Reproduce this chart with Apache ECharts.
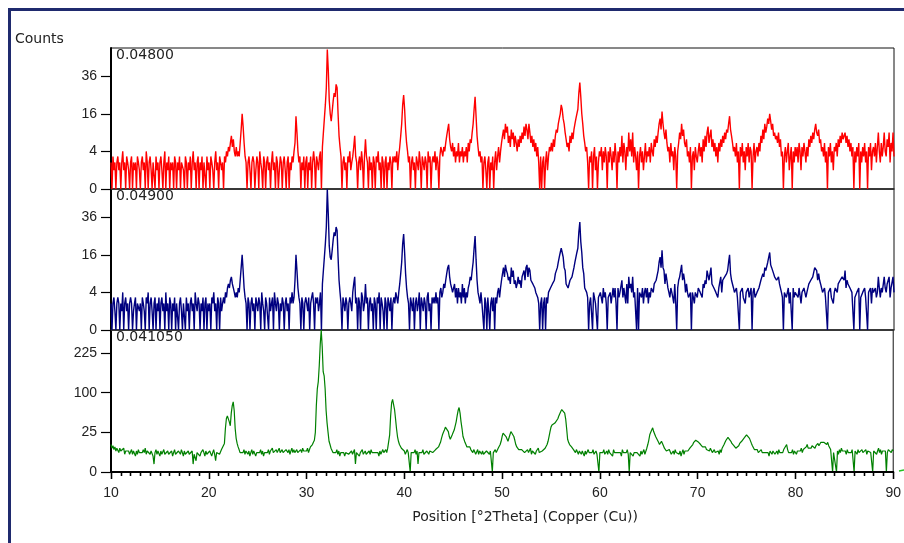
<!DOCTYPE html>
<html><head><meta charset="utf-8">
<script src="https://cdn.jsdelivr.net/npm/echarts@6/dist/echarts.min.js"></script>
<style>html,body{margin:0;padding:0;background:#fff}#c{width:904px;height:543px}</style>
</head><body><div id="c"></div>
<script>
// 2Theta sampling grid (degrees): one value every 0.1 deg from 10 to 90
const thetaStart = 10, thetaStep = 0.1;
const panelLabels = ['0.04800', '0.04900', '0.041050'];
const yTickCountsTop = [0, 4, 16, 36];
const yTickCountsBottom = [0, 25, 100, 225];
const xTitle = 'Position [°2Theta] (Copper (Cu))';
const yTitle = 'Counts';

// one row per degree (10 samples each)
const countsRed = [
 2,0,3,1,2,0,2,3,1,2, 0,2,4,1,2,0,3,2,1,0, 2,3,0,2,1,2,0,3,2,1, 0,2,3,1,2,0,4,2,0,2, 3,1,0,2,2,0,3,1,2,0,
 2,3,1,0,2,4,0,2,1,3, 0,2,1,2,0,3,2,0,2,1, 3,0,2,2,1,0,3,2,0,2, 1,3,0,2,4,1,2,0,2,3, 0,2,1,3,0,2,2,0,3,1,
 2,0,3,2,1,0,2,4,1,2, 0,3,2,1,2,0,3,2,4,3, 5,4,6,8,5,7,4,3,5,3, 4,3,6,10,16,11,6,3,2,0, 2,3,1,0,2,3,2,0,1,3,
 2,0,4,2,1,0,3,2,0,2, 3,1,2,0,2,4,1,2,0,3, 2,0,1,3,2,0,2,3,1,0, 2,3,0,2,1,3,2,4,6,15, 9,4,2,3,0,2,1,3,0,2,
 3,0,2,1,3,0,2,4,2,0, 3,2,1,3,4,0,5,9,14,20, 29,55,40,22,16,13,17,22,26,24, 31,29,16,8,5,3,0,2,3,1, 2,0,3,2,4,1,2,3,5,8,
 3,2,0,2,3,1,4,2,0,3, 7,3,2,0,3,1,2,0,3,2, 0,3,2,4,1,2,0,3,2,0, 2,3,0,2,1,3,2,0,3,2, 3,2,4,1,3,5,8,12,20,25,
 18,10,6,4,2,3,0,2,3,1, 2,0,3,2,1,4,2,0,3,2, 1,3,2,0,4,2,3,0,2,3, 2,4,1,3,2,0,3,5,4,3, 5,4,6,8,10,12,7,5,4,6,
 3,5,2,4,3,6,2,4,3,5, 2,4,3,5,2,6,4,7,6,9, 12,18,24,15,8,5,3,4,2,3, 0,2,3,1,0,2,3,0,2,1, 3,0,2,4,1,3,5,2,4,6,
 8,10,7,12,9,11,6,8,5,10, 7,9,5,8,6,4,7,5,8,6, 9,7,11,8,12,10,7,12,9,6, 8,5,7,4,6,3,5,2,0,3, 0,2,3,0,2,4,1,3,5,4,
 6,4,7,5,8,10,9,12,14,16, 20,18,14,12,9,7,5,6,4,8, 6,9,7,10,12,14,16,18,26,32, 24,16,12,8,6,4,5,2,0,3, 2,4,0,3,5,1,3,0,2,4,
 3,5,1,4,2,5,3,0,4,2, 5,3,1,4,2,6,3,0,4,2, 5,3,8,2,6,4,1,5,3,9, 4,7,3,9,2,5,3,1,4,0, 3,5,2,4,1,3,6,2,4,3,
 5,2,6,4,3,7,5,8,6,9, 12,14,10,17,12,9,7,10,6,4, 5,2,6,3,4,1,5,3,0,4, 6,9,7,12,8,10,6,5,7,3, 4,2,5,0,3,4,1,5,3,2,
 4,6,3,5,2,7,4,8,5,9, 11,6,8,10,5,7,4,6,3,5, 2,6,4,7,5,8,6,9,7,10, 9,12,15,10,8,6,4,5,3,6, 2,4,0,5,3,6,2,4,1,5,
 3,6,2,5,4,0,3,6,2,4, 5,3,6,4,8,6,10,7,12,9, 11,14,12,16,13,10,12,8,9,7, 8,6,9,5,7,3,4,0,3,5, 2,4,6,1,3,5,0,4,2,5,
 3,5,2,6,4,1,5,3,6,4, 2,5,3,7,5,8,6,9,7,10, 12,9,8,10,6,7,4,5,3,6, 2,4,0,5,3,6,2,4,1,5, 4,6,3,7,5,8,6,9,7,8,
 9,6,8,5,7,4,6,3,5,0, 4,2,5,3,6,0,4,2,5,3, 6,2,4,0,5,3,6,1,4,5, 3,6,2,5,9,4,2,6,3,5, 9,4,3,7,5,9,2,6,4,9,
 3
];

const countsBlue = [
 2,0,2,3,1,0,2,3,2,0, 2,1,4,0,2,3,1,2,0,2, 3,2,0,1,2,3,0,2,2,1, 2,0,3,2,1,0,3,2,4,0, 2,3,1,0,2,3,0,2,1,3,
 0,2,3,1,2,0,4,1,2,0, 3,2,0,2,1,3,0,2,2,0, 2,3,1,0,2,2,0,3,1,2, 0,2,3,1,2,0,4,2,1,3, 2,0,2,1,3,0,2,3,0,2,
 1,2,0,3,2,4,1,2,0,3, 2,0,3,1,2,3,2,4,3,5, 6,5,7,8,6,5,4,3,4,3, 5,4,7,11,16,10,5,3,2,0, 3,2,0,2,3,1,2,0,3,2,
 1,3,2,0,4,2,1,0,3,2, 2,0,3,1,2,3,0,4,2,1, 3,2,0,2,1,3,2,0,2,3, 1,2,0,3,2,4,2,3,7,16, 10,5,3,2,0,3,2,0,2,3,
 2,1,3,0,2,3,4,2,0,3, 2,3,1,2,4,0,6,10,15,21, 30,56,38,20,15,14,18,23,27,25, 30,28,15,7,4,2,0,3,2,1, 3,2,0,2,3,2,1,4,6,8,
 2,3,0,3,2,0,4,3,1,2, 6,2,3,0,2,3,1,2,0,3, 2,0,3,2,4,0,3,2,1,0, 3,2,0,3,2,1,3,0,2,3, 2,4,3,2,4,6,9,13,21,26,
 17,9,5,3,2,0,3,2,1,3, 0,2,3,1,2,4,0,3,2,1, 3,2,0,3,4,1,2,0,3,2, 3,2,4,2,3,0,4,5,3,4, 6,5,7,9,11,12,8,6,5,4,
 4,6,3,5,2,5,3,4,2,6, 3,5,2,4,3,5,6,8,7,10, 13,19,25,14,7,4,3,2,4,2, 2,0,3,2,0,3,1,0,2,3, 1,3,0,3,2,4,5,3,5,7,
 9,11,8,12,10,9,7,8,6,11, 8,10,6,7,5,6,8,6,7,5, 8,9,10,7,11,12,8,11,10,7, 7,6,6,5,4,4,3,2,0,2, 3,0,2,3,0,3,2,4,4,5,
 5,6,6,7,9,9,11,13,15,17, 19,17,15,11,10,6,6,5,5,7, 7,8,8,11,13,13,17,19,27,33, 22,17,11,9,5,5,4,3,0,2, 3,3,0,4,4,2,2,0,3,3,
 4,4,2,5,3,4,2,0,3,3, 4,2,2,5,3,5,2,0,5,3, 4,4,7,3,5,5,2,6,2,8, 5,6,4,8,3,4,4,0,5,0, 4,4,3,5,2,4,5,3,5,2,
 4,3,5,5,4,6,6,7,7,10, 13,15,11,18,11,10,6,9,7,5, 4,3,5,4,3,2,6,2,0,5, 7,8,8,12,7,9,7,4,6,4, 3,3,4,0,4,3,2,4,4,3,
 5,5,4,4,3,6,5,7,6,10, 10,7,7,11,6,6,5,5,4,4, 3,5,5,8,4,7,7,8,8,9, 10,13,16,9,7,7,5,4,4,5, 3,3,0,4,4,5,3,3,2,4,
 4,5,3,4,5,0,4,5,3,3, 4,4,5,5,7,7,9,8,11,10, 10,13,13,17,12,11,11,9,8,8, 7,7,8,6,6,4,3,0,4,4, 3,3,5,2,4,4,0,5,3,4,
 4,4,3,5,5,2,4,4,5,5, 3,4,4,6,6,7,7,8,8,11, 11,10,7,9,7,6,5,4,4,5, 3,3,0,4,4,5,3,3,2,4, 5,5,4,6,6,7,7,8,8,7,
 10,5,7,6,6,5,5,4,4,0, 3,3,4,4,5,0,3,3,4,4, 5,3,3,0,4,4,5,2,5,4, 4,5,3,4,8,5,3,5,4,4, 8,5,4,6,6,8,3,5,5,8,
 4
];

const countsGreen = [
 12,9,11,8,10,7,9,8,6,9, 7,8,6,9,5,7,8,6,7,5, 6,8,5,7,6,4,7,5,8,6, 7,5,6,8,6,9,5,7,6,8, 5,7,6,4,1,6,8,5,7,6,
 4,7,5,6,8,5,6,4,7,5, 6,5,7,4,6,8,5,6,4,7, 6,5,8,6,4,7,5,6,5,7, 5,6,4,7,1,5,6,2,6,5, 7,4,6,5,8,6,4,7,5,6,
 5,7,6,4,6,8,5,2,6,5, 7,5,6,8,7,9,13,30,45,50, 48,40,34,55,70,78,60,30,18,13, 10,8,6,7,5,6,8,5,7,6, 5,7,4,6,8,5,7,6,4,6,
 7,5,6,8,5,7,4,6,7,5, 6,8,5,7,6,9,6,7,5,8, 6,7,9,6,5,8,6,7,5,8, 7,6,8,5,7,9,6,8,6,7, 8,6,7,5,8,6,9,7,6,8,
 7,9,6,8,10,9,12,14,16,25, 70,110,130,180,260,320,250,160,147,110, 60,38,25,15,12,9,8,6,7,5, 6,8,5,7,4,6,5,7,6,4, 6,5,7,5,6,4,7,5,6,8,
 1,6,5,7,4,6,5,8,5,6, 7,5,6,4,7,5,8,6,5,7, 6,5,7,6,4,7,5,6,8,6, 7,8,6,9,10,22,50,76,84,80, 62,45,30,20,15,12,11,9,8,10,
 7,5,6,8,6,5,0,6,5,7, 6,8,5,7,1,6,5,7,6,8, 5,6,4,7,6,5,7,6,8,6, 7,6,8,9,7,10,12,14,18,22, 25,28,32,34,30,26,20,17,19,22,
 25,28,30,40,50,60,66,55,40,30, 20,17,14,12,10,11,9,10,8,7, 6,8,7,5,6,8,5,7,6,5, 7,5,6,4,7,6,8,5,7,6, 0,6,5,8,6,7,9,8,12,15,
 20,24,22,25,20,18,15,16,22,26, 24,26,20,16,12,10,9,8,7,8, 8,7,9,6,7,5,8,6,7,9, 5,7,6,8,5,7,6,9,6,7, 5,7,8,6,9,10,12,15,20,26,
 32,35,37,36,38,40,39,45,50,54, 58,62,66,64,55,45,30,17,14,12, 11,10,9,8,7,6,8,7,5,7, 6,5,7,6,4,7,5,6,8,6, 7,5,6,8,5,6,7,5,6,0,
 6,5,7,6,8,5,6,7,5,8, 6,5,7,4,8,6,5,7,6,5, 7,6,4,8,6,5,7,6,8,5, 0,6,5,7,4,6,5,7,6,5, 6,4,7,5,6,8,5,6,9,12,
 16,22,25,28,31,26,24,20,21,18, 14,12,13,15,13,11,9,8,7,8, 6,8,7,5,6,7,5,8,6,7, 6,5,7,4,6,8,5,7,6,8, 7,6,9,8,10,12,14,13,16,15,
 17,14,15,12,13,10,11,9,10,8, 9,8,7,9,8,6,7,8,6,7, 6,7,5,8,6,9,10,12,14,16, 17,19,21,18,15,13,12,11,10,9, 10,9,11,13,12,15,14,17,19,21,
 22,24,21,18,16,13,11,10,8,9, 7,8,6,7,5,8,6,7,5,6, 7,5,6,4,7,6,5,7,6,5, 6,7,5,8,6,7,5,6,8,7, 9,12,8,6,7,5,6,8,5,7,
 6,5,7,8,6,7,9,6,8,7, 9,10,12,9,8,10,9,11,10,12, 9,11,12,13,11,12,14,13,15,14, 15,13,12,14,11,10,8,7,0,6, 7,6,0,7,5,8,6,9,7,8,
 6,7,5,8,6,7,5,6,8,7, 0,7,6,5,8,6,7,5,8,6, 7,6,8,5,7,6,8,6,7,0, 7,8,6,5,7,9,6,8,5,7, 6,8,7,0,6,8,7,9,6,8,
 7
];

const FONT = '"DejaVu Sans", Verdana, sans-serif';
const AXFONT = '"Liberation Sans", Arial, sans-serif';
const toPts = arr => arr.map((c, i) => [+(thetaStart + i * thetaStep).toFixed(1), Math.sqrt(c)]);

const grids = [
  {left: 111, right: 10, top: 48, height: 141},
  {left: 111, right: 10, top: 189, height: 141},
  {left: 111, right: 10, top: 330, height: 142}
].map(g => Object.assign(g, {show: true, borderColor: '#111', borderWidth: 1, backgroundColor: 'transparent', containLabel: false}));

function xAx(i) {
  const base = {gridIndex: i, type: 'value', min: 10, max: 90, interval: 10, splitLine: {show: false}};
  if (i < 2) {
    return Object.assign(base, {axisLine: {show: true, onZero: false, lineStyle: {color: '#333', width: 1.5}},
      axisTick: {show: false}, axisLabel: {show: false}});
  }
  return Object.assign(base, {
    z: 10,
    axisLine: {show: true, onZero: false, lineStyle: {color: '#000', width: 2}},
    axisTick: {show: true, length: 7, lineStyle: {color: '#000', width: 1.3}},
    minorTick: {show: true, splitNumber: 10, length: 4, lineStyle: {color: '#000', width: 1.3}},
    axisLabel: {show: true, margin: 9, padding: [5, 0, 0, 0], fontSize: 14, color: '#222', fontFamily: AXFONT},
    name: xTitle, nameLocation: 'middle', nameGap: 38,
    nameTextStyle: {fontSize: 14, color: '#222', fontFamily: FONT, padding: [0, 0, 0, 46]}
  });
}

// a bare companion axis on the bottom panel that carries only the tick marks
const tickAxis = {
  gridIndex: 2, type: 'value', position: 'bottom', min: 10, max: 90, interval: 10, z: 10,
  splitLine: {show: false}, axisLabel: {show: false},
  axisLine: {show: true, onZero: false, lineStyle: {color: '#000', width: 2}},
  axisTick: {show: true, length: 7, lineStyle: {color: '#000', width: 1.3}},
  minorTick: {show: true, splitNumber: 10, length: 4, lineStyle: {color: '#000', width: 1.3}}
};

function yAx(i, maxSqrt, tickCounts) {
  const vals = tickCounts.map(Math.sqrt);
  return {
    gridIndex: i, type: 'value', min: 0, max: maxSqrt,
    splitLine: {show: false},
    axisLine: {show: true, onZero: false, lineStyle: {color: '#000', width: 2}},
    axisTick: {show: true, length: 10, customValues: vals, lineStyle: {color: '#000', width: 1.2}},
    axisLabel: {show: true, customValues: vals, margin: 14, fontSize: 14, color: '#222', fontFamily: AXFONT,
      formatter: v => String(Math.round(v * v))}
  };
}

function ser(i, arr, color, w) {
  return {type: 'line', xAxisIndex: i, yAxisIndex: i, data: toPts(arr), showSymbol: false, symbol: 'none',
    lineStyle: {color: color, width: w}, itemStyle: {color: color}, clip: true, animation: false};
}

const chart = echarts.init(document.getElementById('c'), null, {renderer: 'canvas'});
chart.setOption({
  animation: false,
  backgroundColor: '#fff',
  grid: grids,
  xAxis: [xAx(0), xAx(1), xAx(2), tickAxis],
  yAxis: [yAx(0, 7.5, yTickCountsTop), yAx(1, 7.5, yTickCountsTop), yAx(2, 17.9, yTickCountsBottom)],
  series: [ser(0, countsRed, '#ff0000', 1.4), ser(1, countsBlue, '#000080', 1.4), ser(2, countsGreen, '#008000', 1.2)],
  graphic: [
    {type: 'rect', silent: true, z: 100, shape: {x: 9.5, y: 9.5, width: 920, height: 580},
      style: {fill: 'none', stroke: '#1f2a6e', lineWidth: 3}},
    {type: 'text', x: 15, y: 32, z: 100, style: {text: yTitle, fill: '#222', font: '14px ' + FONT}},
    {type: 'text', x: 116, y: 48, z: 100, style: {text: panelLabels[0], fill: '#222', font: '14px ' + FONT}},
    {type: 'text', x: 116, y: 189, z: 100, style: {text: panelLabels[1], fill: '#222', font: '14px ' + FONT}},
    {type: 'text', x: 116, y: 330, z: 100, style: {text: panelLabels[2], fill: '#222', font: '14px ' + FONT}},
    {type: 'line', silent: true, z: 100, shape: {x1: 899, y1: 471, x2: 904, y2: 470},
      style: {stroke: '#22c022', lineWidth: 1.5}}
  ]
});
</script></body></html>
